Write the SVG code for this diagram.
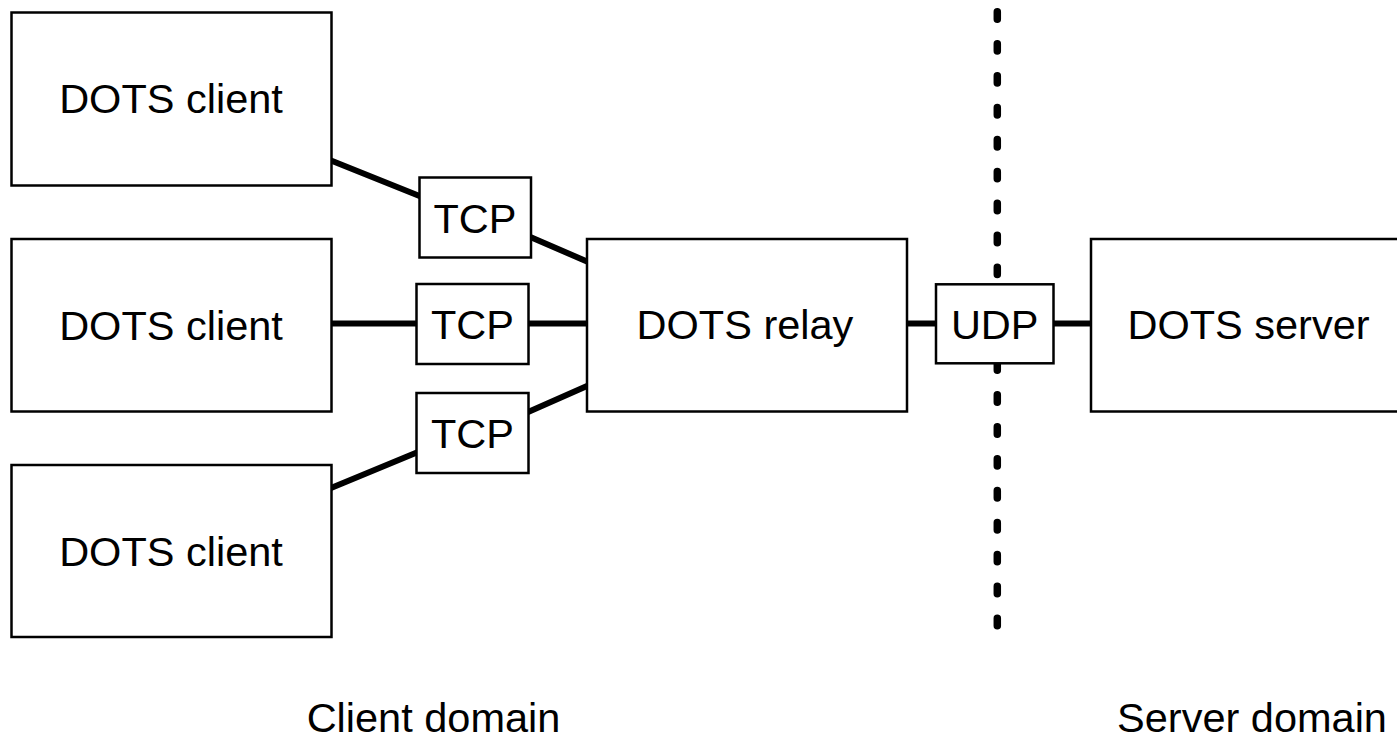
<svg xmlns="http://www.w3.org/2000/svg" width="1397" height="738" viewBox="0 0 1397 738">
<style>
.box{fill:#fff;stroke:#000;stroke-width:2.5}
.conn{fill:none;stroke:#000;stroke-width:6;stroke-linecap:round}
.t{font-family:"Liberation Sans",Arial,Helvetica,sans-serif;font-size:41.5px;fill:#000;text-anchor:middle}
.div{fill:none;stroke:#000;stroke-width:7.5;stroke-linecap:round;stroke-dasharray:7.4 24.52}
</style>
<rect width="1397" height="738" fill="#fff"/>
<line id="boundary" class="div" x1="997.3" y1="11.8" x2="997.3" y2="626.5"/>
<g id="connectors">
<line class="conn" x1="331" y1="160.5" x2="422" y2="197"/>
<line class="conn" x1="528" y1="236" x2="587" y2="261.5"/>
<line class="conn" x1="331" y1="323.5" x2="418" y2="323.5"/>
<line class="conn" x1="527" y1="323.5" x2="587" y2="323.5"/>
<line class="conn" x1="331" y1="488" x2="418" y2="452"/>
<line class="conn" x1="527" y1="412.5" x2="587" y2="386"/>
<line class="conn" x1="907" y1="323.5" x2="938" y2="323.5"/>
<line class="conn" x1="1052" y1="323.5" x2="1091" y2="323.5"/>
</g>
<g id="client1"><rect class="box" x="11.5" y="12.5" width="320" height="173"/><text class="t" x="171" y="113">DOTS client</text></g>
<g id="client2"><rect class="box" x="11.5" y="239" width="320" height="172.5"/><text class="t" x="171" y="340">DOTS client</text></g>
<g id="client3"><rect class="box" x="11.5" y="465" width="320" height="172"/><text class="t" x="171" y="566">DOTS client</text></g>
<g id="tcp1"><rect class="box" x="419.5" y="177.5" width="111.5" height="80"/><text class="t" x="475" y="232.7">TCP</text></g>
<g id="tcp2"><rect class="box" x="416.5" y="284" width="112" height="80"/><text class="t" x="472.5" y="339">TCP</text></g>
<g id="tcp3"><rect class="box" x="416.5" y="393" width="112" height="80"/><text class="t" x="472.5" y="448">TCP</text></g>
<g id="relay"><rect class="box" x="587" y="239" width="320" height="172.5"/><text class="t" x="745" y="338.7">DOTS relay</text></g>
<g id="udp"><rect class="box" x="936" y="284.3" width="117.5" height="79"/><text class="t" x="994.7" y="339">UDP</text></g>
<g id="server"><rect class="box" x="1091" y="239" width="318" height="172.5"/><text class="t" x="1248.5" y="339">DOTS server</text></g>
<g id="labels">
<text class="t" x="433.5" y="731.5">Client domain</text>
<text class="t" x="1252" y="731.5">Server domain</text>
</g>
</svg>
